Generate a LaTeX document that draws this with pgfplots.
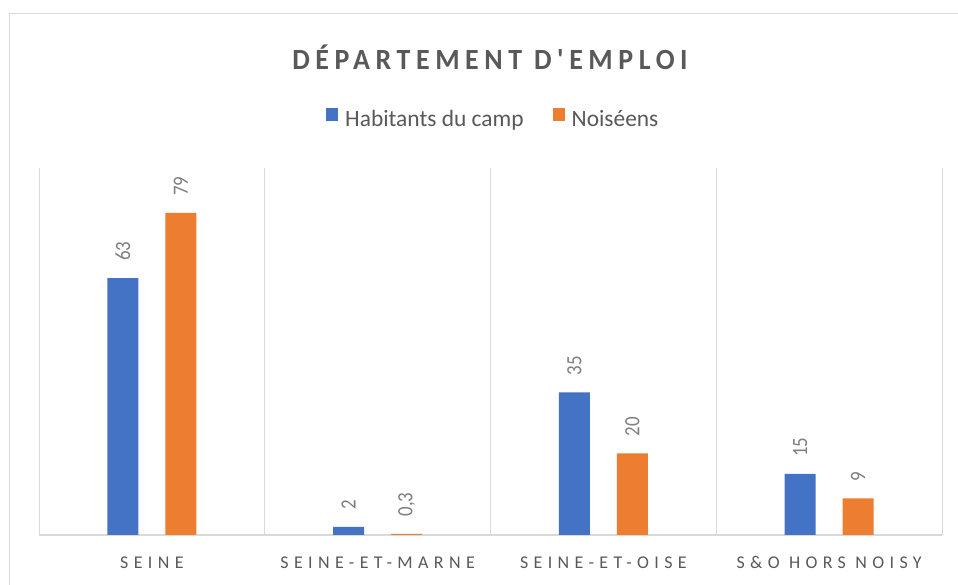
\documentclass[border=0pt]{standalone}
\usepackage{pgfplots}
\pgfplotsset{compat=1.18}
\usepackage{fontspec}
\setmainfont{Carlito}
\newfontfamily\titlefont{Carlito}[LetterSpace=20]
\newfontfamily\tickfont{Carlito}[LetterSpace=30]
\definecolor{cblue}{HTML}{4472C4}
\definecolor{corange}{HTML}{ED7D31}
\definecolor{txtgray}{HTML}{595959}
\definecolor{lblgray}{HTML}{7F7F7F}
\definecolor{linegray}{HTML}{D9D9D9}
\begin{document}
\begin{tikzpicture}[x=1bp,y=1bp]
\path[use as bounding box] (0,0) rectangle (958,585);
\fill[white] (0,0) rectangle (958,585);
\draw[linegray, line width=1bp] (9,0) -- (9,571) -- (958,571);
\node[text=txtgray, font=\titlefont\bfseries\fontsize{28}{32}\selectfont, anchor=center] at (490,528) {\scalebox{1}[1.05]{DÉPARTEMENT D'EMPLOI}};
\begin{axis}[
  at={(39bp,50bp)}, anchor=south west,
  scale only axis, width=903bp, height=367bp,
  xmin=-0.5, xmax=3.5, ymin=0, ymax=90,
  ybar=27bp, bar width=31bp,
  axis x line=bottom, axis y line=none,
  x axis line style={linegray, line width=1.3bp, -},
  xtick={0,1,2,3},
  xticklabels={SEINE, SEINE-ET-MARNE, SEINE-ET-OISE, S\&O HORS NOISY},
  major tick length=0pt,
  xticklabel style={font=\tickfont\fontsize{18}{20}\selectfont, text=txtgray, anchor=base, yshift=-34bp},
  extra x ticks={-0.5,0.5,1.5,2.5,3.5},
  extra x tick labels={},
  extra x tick style={grid=major, major grid style={linegray, line width=1bp}, major tick length=0pt},
  ytick=\empty,
  point meta=explicit symbolic,
  nodes near coords={\scalebox{1}[1.15]{\pgfplotspointmeta}},
  every node near coord/.append style={font=\fontsize{19}{21}\selectfont, text=lblgray, yshift=17bp, rotate=90, anchor=west, inner sep=0pt},
  legend style={at={(0.502,1.136)}, anchor=center, draw=none, fill=none, legend columns=2,
    font=\fontsize{23.5}{26}\selectfont, text=txtgray,
    /tikz/every odd column/.append style={column sep=7bp},
    /tikz/every even column/.append style={column sep=29bp},
    nodes={inner sep=0pt}},
  legend image code/.code={\fill[#1, draw=none] (0bp,-2.5bp) rectangle (12bp,10.5bp);},
]
\addplot[fill=cblue, draw=none] coordinates {(0,63) [63] (1,2) [2] (2,35) [35] (3,15) [15]};
\addplot[fill=corange, draw=none] coordinates {(0,79) [79] (1,0.3) [0{,}3] (2,20) [20] (3,9) [9]};
\legend{Habitants du camp, Noiséens}
\end{axis}
\end{tikzpicture}
\end{document}
